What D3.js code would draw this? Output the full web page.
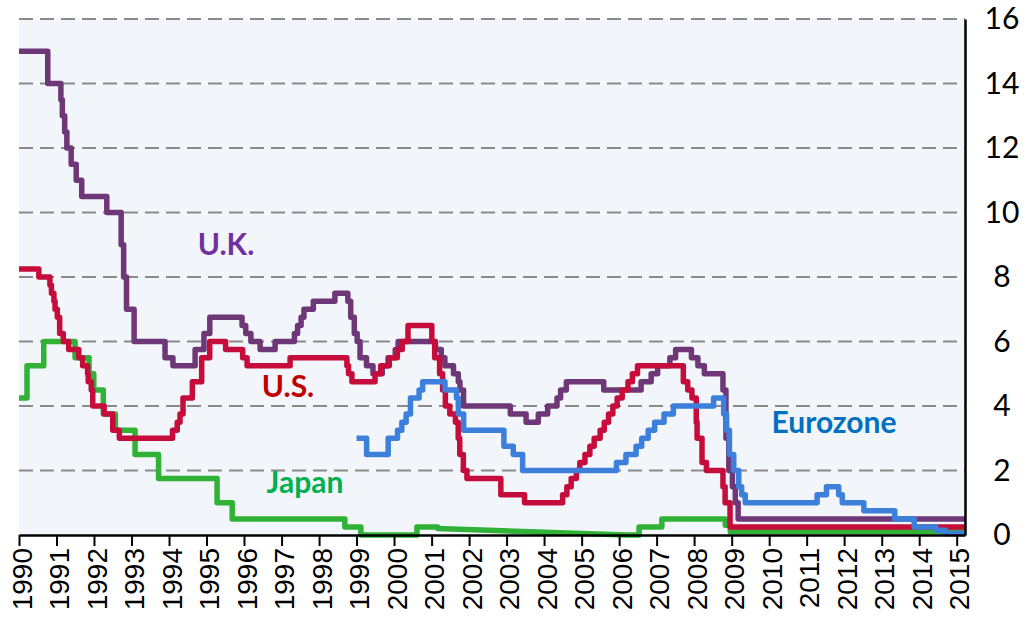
<!DOCTYPE html>
<html>
<head>
<meta charset="utf-8">
<script src="https://cdn.jsdelivr.net/npm/d3@7"></script>
<style>
  body { margin: 0; background: #fff; }
  svg { display: block; }
</style>
</head>
<body>
<div id="chart"></div>
<script>
"use strict";

// Policy rates, % -- each entry is [date the rate took effect, new rate]

var ukRate = [
  ["1990-01-01", 15], ["1990-10-08", 14], ["1991-02-13", 13.5], ["1991-02-27", 13],
  ["1991-03-22", 12.5], ["1991-04-12", 12], ["1991-05-24", 11.5], ["1991-07-12", 11],
  ["1991-09-04", 10.5], ["1992-05-05", 10], ["1992-09-22", 9], ["1992-10-16", 8],
  ["1992-11-13", 7], ["1993-01-26", 6], ["1993-11-23", 5.5], ["1994-02-08", 5.25],
  ["1994-09-12", 5.75], ["1994-12-07", 6.25], ["1995-02-02", 6.75], ["1995-12-13", 6.5],
  ["1996-01-18", 6.25], ["1996-03-08", 6], ["1996-06-06", 5.75], ["1996-10-30", 6],
  ["1997-05-06", 6.25], ["1997-06-06", 6.5], ["1997-07-10", 6.75], ["1997-08-07", 7],
  ["1997-11-06", 7.25], ["1998-06-04", 7.5], ["1998-10-08", 7.25], ["1998-11-05", 6.75],
  ["1998-12-10", 6.25], ["1999-01-07", 6], ["1999-02-04", 5.5], ["1999-04-08", 5.25],
  ["1999-06-10", 5], ["1999-09-08", 5.25], ["1999-11-04", 5.5], ["2000-01-13", 5.75],
  ["2000-02-10", 6], ["2001-02-08", 5.75], ["2001-04-05", 5.5], ["2001-05-10", 5.25],
  ["2001-08-02", 5], ["2001-09-18", 4.75], ["2001-10-04", 4.5], ["2001-11-08", 4],
  ["2003-02-06", 3.75], ["2003-07-10", 3.5], ["2003-11-06", 3.75], ["2004-02-05", 4],
  ["2004-05-06", 4.25], ["2004-06-10", 4.5], ["2004-08-05", 4.75], ["2005-08-04", 4.5],
  ["2006-08-03", 4.75], ["2006-11-09", 5], ["2007-01-11", 5.25], ["2007-05-10", 5.5],
  ["2007-07-05", 5.75], ["2007-12-06", 5.5], ["2008-02-07", 5.25], ["2008-04-10", 5],
  ["2008-10-08", 4.5], ["2008-11-06", 3], ["2008-12-04", 2], ["2009-01-08", 1.5],
  ["2009-02-05", 1], ["2009-03-05", 0.5]
];

var usRate = [
  ["1990-01-01", 8.25], ["1990-07-13", 8], ["1990-10-29", 7.75], ["1990-11-13", 7.5],
  ["1990-12-07", 7.25], ["1990-12-18", 7], ["1991-01-09", 6.75], ["1991-02-01", 6.25],
  ["1991-03-08", 6], ["1991-04-30", 5.75], ["1991-08-06", 5.5], ["1991-09-13", 5.25],
  ["1991-10-31", 5], ["1991-11-06", 4.75], ["1991-12-06", 4.5], ["1991-12-20", 4],
  ["1992-04-09", 3.75], ["1992-07-02", 3.25], ["1992-09-04", 3], ["1994-02-04", 3.25],
  ["1994-03-22", 3.5], ["1994-04-18", 3.75], ["1994-05-17", 4.25], ["1994-08-16", 4.75],
  ["1994-11-15", 5.5], ["1995-02-01", 6], ["1995-07-06", 5.75], ["1995-12-19", 5.5],
  ["1996-01-31", 5.25], ["1997-03-25", 5.5], ["1998-09-29", 5.25], ["1998-10-15", 5],
  ["1998-11-17", 4.75], ["1999-06-30", 5], ["1999-08-24", 5.25], ["1999-11-16", 5.5],
  ["2000-02-02", 5.75], ["2000-03-21", 6], ["2000-05-16", 6.5], ["2001-01-03", 6],
  ["2001-01-31", 5.5], ["2001-03-20", 5], ["2001-04-18", 4.5], ["2001-05-15", 4],
  ["2001-06-27", 3.75], ["2001-08-21", 3.5], ["2001-09-17", 3], ["2001-10-02", 2.5],
  ["2001-11-06", 2], ["2001-12-11", 1.75], ["2002-11-06", 1.25], ["2003-06-25", 1],
  ["2004-06-30", 1.25], ["2004-08-10", 1.5], ["2004-09-21", 1.75], ["2004-11-10", 2],
  ["2004-12-14", 2.25], ["2005-02-02", 2.5], ["2005-03-22", 2.75], ["2005-05-03", 3],
  ["2005-06-30", 3.25], ["2005-08-09", 3.5], ["2005-09-20", 3.75], ["2005-11-01", 4],
  ["2005-12-13", 4.25], ["2006-01-31", 4.5], ["2006-03-28", 4.75], ["2006-05-10", 5],
  ["2006-06-29", 5.25], ["2007-09-18", 4.75], ["2007-10-31", 4.5], ["2007-12-11", 4.25],
  ["2008-01-22", 3.5], ["2008-01-30", 3], ["2008-03-18", 2.25], ["2008-04-30", 2],
  ["2008-10-08", 1.5], ["2008-10-29", 1], ["2008-12-16", 0.25]
];

var euroRate = [
  ["1999-01-01", 3], ["1999-04-09", 2.5], ["1999-11-05", 3], ["2000-02-04", 3.25],
  ["2000-03-17", 3.5], ["2000-04-28", 3.75], ["2000-06-09", 4.25], ["2000-09-01", 4.5],
  ["2000-10-06", 4.75], ["2001-05-11", 4.5], ["2001-08-31", 4.25], ["2001-09-18", 3.75],
  ["2001-11-09", 3.25], ["2002-12-06", 2.75], ["2003-03-07", 2.5], ["2003-06-06", 2],
  ["2005-12-06", 2.25], ["2006-03-08", 2.5], ["2006-06-15", 2.75], ["2006-08-09", 3],
  ["2006-10-11", 3.25], ["2006-12-13", 3.5], ["2007-03-14", 3.75], ["2007-06-13", 4],
  ["2008-07-09", 4.25], ["2008-10-15", 3.75], ["2008-11-12", 3.25], ["2008-12-10", 2.5],
  ["2009-01-21", 2], ["2009-03-11", 1.5], ["2009-04-08", 1.25], ["2009-05-13", 1],
  ["2011-04-13", 1.25], ["2011-07-13", 1.5], ["2011-11-09", 1.25], ["2011-12-14", 1],
  ["2012-07-11", 0.75], ["2013-05-08", 0.5], ["2013-11-13", 0.25], ["2014-06-11", 0.15],
  ["2014-09-10", 0.05]
];

// Japan has a stretch with no target (2001-2006) that the chart draws as a slope
var japanEarly = [
  ["1990-01-01", 4.25], ["1990-03-20", 5.25], ["1990-08-30", 6], ["1991-07-01", 5.5],
  ["1991-11-14", 5], ["1991-12-30", 4.5], ["1992-04-01", 3.75], ["1992-07-27", 3.25],
  ["1993-02-04", 2.5], ["1993-09-21", 1.75], ["1995-04-14", 1], ["1995-09-08", 0.5],
  ["1998-09-09", 0.25], ["1999-02-12", 0], ["2000-08-11", 0.25]
];
var japanSlope = [["2001-03-01", 0.2], ["2006-03-09", 0]];
var japanLate = [
  ["2006-03-09", 0], ["2006-07-14", 0.25], ["2007-02-21", 0.5], ["2008-10-31", 0.3],
  ["2008-12-19", 0.1]
];

var endDate = "2015-03-23";
var yTicks = [0, 2, 4, 6, 8, 10, 12, 14, 16];


var parse = d3.timeParse("%Y-%m-%d");

// Turn a list of rate changes into the corners of a staircase
var stepVertices = function (steps, until) {
  var pts = [];
  for (var i = 0; i < steps.length; i++) {
    var next = i + 1 < steps.length ? steps[i + 1][0] : until;
    pts.push([parse(steps[i][0]), steps[i][1]]);
    pts.push([parse(next), steps[i][1]]);
  }
  return pts;
};

var japanVertices = stepVertices(japanEarly, japanSlope[0][0])
  .concat(japanSlope.map(function (d) { return [parse(d[0]), d[1]]; }))
  .concat(stepVertices(japanLate, endDate));

// drawing order: euro ends up on top, as in the original
var series = [
  { name: "Japan", color: "#2fb236", pts: japanVertices },
  { name: "U.K.", color: "#6e3778", pts: stepVertices(ukRate, endDate) },
  { name: "U.S.", color: "#c50c3a", pts: stepVertices(usRate, endDate) },
  { name: "Eurozone", color: "#3c80dc", pts: stepVertices(euroRate, endDate) }
];

var labels = [
  { text: "U.K.", color: "#7030a0", x: 226, y: 255 },
  { text: "U.S.", color: "#c00000", x: 288, y: 397 },
  { text: "Japan", color: "#00b050", x: 305, y: 493 },
  { text: "Eurozone", color: "#0070c0", x: 834, y: 433 }
];


var width = 1028, height = 619;
var plotLeft = 19, plotRight = 965, plotTop = 19, plotBottom = 535;

var svg = d3.select("#chart").append("svg")
  .attr("width", width)
  .attr("height", height);

var x = d3.scaleTime()
  .domain([parse("1990-01-01"), parse(endDate)])
  .range([plotLeft, plotRight]);

var y = d3.scaleLinear()
  .domain([0, 16])
  .range([plotBottom, plotTop]);

svg.append("rect")
  .attr("x", plotLeft)
  .attr("y", plotTop)
  .attr("width", plotRight - plotLeft)
  .attr("height", plotBottom - plotTop)
  .attr("fill", "#f2f5fa");

// dashed gridlines
svg.append("g")
  .selectAll("line")
  .data(yTicks.filter(function (d) { return d > 0; }))
  .enter().append("line")
    .attr("x1", plotLeft)
    .attr("x2", plotRight)
    .attr("y1", function (d) { return y(d); })
    .attr("y2", function (d) { return y(d); })
    .attr("stroke", "#8a8a8a")
    .attr("stroke-width", 2)
    .attr("stroke-dasharray", "14,7");

var line = d3.line()
  .x(function (d) { return x(d[0]); })
  .y(function (d) { return y(d[1]); });

svg.append("g")
  .selectAll("path")
  .data(series)
  .enter().append("path")
    .attr("d", function (d) { return line(d.pts); })
    .attr("fill", "none")
    .attr("stroke", function (d) { return d.color; })
    .attr("stroke-width", 5.5)
    .attr("stroke-linejoin", "round");

// bottom axis, one tick per year
var xAxis = d3.axisBottom(x)
  .ticks(d3.timeYear.every(1))
  .tickFormat(d3.timeFormat("%Y"))
  .tickSize(11)
  .tickSizeOuter(0);

var gx = svg.append("g")
  .attr("transform", "translate(0," + plotBottom + ")")
  .call(xAxis);

gx.select(".domain")
  .attr("stroke", "#000")
  .attr("stroke-width", 2.5);
gx.selectAll(".tick line")
  .attr("stroke", "#000")
  .attr("stroke-width", 2);
gx.selectAll(".tick text")
  .attr("transform", "rotate(-90)")
  .attr("x", -13)
  .attr("y", 0)
  .attr("dy", "0.43em")
  .attr("text-anchor", "end")
  .attr("fill", "#000")
  .style("font-family", "'Liberation Sans', Arial, sans-serif")
  .style("font-size", "28px");

// right axis, labels only
var yAxis = d3.axisRight(y)
  .tickValues(yTicks)
  .tickSize(0)
  .tickPadding(37);

var gy = svg.append("g")
  .attr("transform", "translate(" + plotRight + ",0)")
  .call(yAxis);

gy.select(".domain")
  .attr("stroke", "#000")
  .attr("stroke-width", 2.5);
gy.selectAll(".tick text")
  .attr("text-anchor", "middle")
  .attr("fill", "#000")
  .style("font-family", "Lato, 'Open Sans', sans-serif")
  .style("font-size", "30px");

svg.append("g")
  .selectAll("text")
  .data(labels)
  .enter().append("text")
    .attr("x", function (d) { return d.x; })
    .attr("y", function (d) { return d.y; })
    .attr("text-anchor", "middle")
    .attr("fill", function (d) { return d.color; })
    .style("font-family", "Lato, 'Open Sans', sans-serif")
    .style("font-weight", "bold")
    .style("font-size", "30px")
    .text(function (d) { return d.text; });
</script>
</body>
</html>
